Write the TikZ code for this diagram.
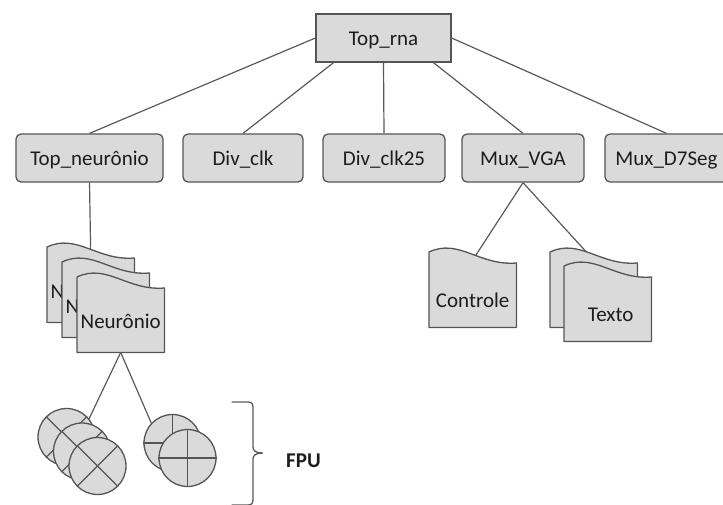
\documentclass[tikz,border=0pt]{standalone}
\usepackage{fontspec}
\setmainfont{Carlito}
\definecolor{boxgray}{HTML}{DADADA}
\definecolor{boxline}{HTML}{555555}
\definecolor{linkgray}{HTML}{5A5A5A}
\definecolor{txt}{HTML}{1C1C1C}

% wavy "document" outline built on the anchors of an invisible frame node
\newcommand\docoutline[1]{(#1.south west) -- (#1.north west)
  .. controls ([xshift=30pt,yshift=14pt]#1.north west) and ([xshift=50pt,yshift=-14pt]#1.north west)
  .. ([yshift=-11pt]#1.north east) -- (#1.south east) -- cycle}

\tikzset{
  lbl/.style={font=\fontsize{21}{24}\selectfont, text=txt},
  topbox/.style={lbl, draw=boxline, fill=boxgray, line width=1.3pt,
    minimum height=48pt, inner sep=0pt, text height=14pt, text depth=0pt},
  modbox/.style={topbox, rounded corners=5pt},
  link/.style={draw=linkgray, line width=1.2pt},
  docframe/.style={rectangle, inner sep=0pt, minimum width=87pt,
    minimum height=75pt, anchor=north west},
  docshape/.style={draw=boxline, fill=boxgray, line width=1.3pt, line join=round},
  doclbl/.style={lbl, anchor=base, inner sep=0pt},
  unit/.style={circle, draw=boxline, fill=boxgray, line width=1.3pt,
    minimum size=57pt, inner sep=0pt},
  cut/.style={draw=boxline, line width=1.3pt},
  bracestyle/.style={draw=linkgray, line width=1.3pt, line cap=round},
}

\begin{document}
\begin{tikzpicture}[x=1pt, y=-1pt]
\useasboundingbox (0,0) rectangle (723,504);

% ---- hierarchy boxes ----
\node[topbox, minimum width=135pt] (top) at (383.5,38) {Top\_rna};
\node[modbox, minimum width=147pt] (topn) at (89.5,158) {Top\_neurônio};
\node[modbox, minimum width=120pt] (div) at (243,158) {Div\_clk};
\node[modbox, minimum width=122pt] (div25) at (384,158) {Div\_clk25};
\node[modbox, minimum width=122pt] (vga) at (523,158) {Mux\_VGA};
\node[modbox, minimum width=123pt] (d7) at (666.5,158) {Mux\_D7Seg};

% ---- invisible frames of the document shapes ----
\node[docframe] (n1) at (47,247) {};
\node[docframe] (n2) at (62,262) {};
\node[docframe] (n3) at (77,277) {};
\node[docframe] (ctl) at (429,252) {};
\node[docframe] (tx1) at (550,252) {};
\node[docframe] (tx2) at (564,266) {};

% ---- connectors (drawn first, shapes cover their ends) ----
\draw[link] (top.west) -- (topn.north);
\draw[link] ([xshift=-50pt]top.south) -- (div.north);
\draw[link] (top.south) -- (div25.north);
\draw[link] ([xshift=50pt]top.south) -- (vga.north);
\draw[link] (top.east) -- (d7.north);
\draw[link] (topn.south) -- ([yshift=-6pt]n1.north);
\draw[link] (vga.south) -- ([yshift=-8pt]ctl.north);
\draw[link] (vga.south) -- ([yshift=-8pt]tx1.north);

% ---- neuron stack ----
\fill[docshape] \docoutline{n1};
\node[doclbl] (n1t) at ([yshift=-51pt]n1.north) {Neurônio};
\fill[docshape] \docoutline{n2};
\node[doclbl] (n2t) at ([yshift=-51pt]n2.north) {Neurônio};
\fill[docshape] \docoutline{n3};
\node[doclbl] (n3t) at ([yshift=-51pt]n3.north) {Neurônio};

% ---- VGA children ----
\fill[docshape] \docoutline{ctl};
\node[doclbl] (ctlt) at ([yshift=-55pt]ctl.north) {Controle};
\fill[docshape] \docoutline{tx1};
\fill[docshape] \docoutline{tx2};
\node[doclbl] (tx2t) at ([xshift=3pt,yshift=-55pt]tx2.north) {Texto};

% ---- floating point units ----
\coordinate (ua) at (66.5,437);
\coordinate (ub) at (172.5,443);
\draw[link] (n3.south) -- ([yshift=-29pt]ua);
\draw[link] (n3.south) -- ([yshift=-29pt]ub);

\node[unit] (m1) at (66.5,437) {};
\draw[cut] (m1.north west) -- (m1.south east) (m1.north east) -- (m1.south west);
\node[unit] (m2) at (82,451.5) {};
\draw[cut] (m2.north west) -- (m2.south east) (m2.north east) -- (m2.south west);
\node[unit] (m3) at (97.5,466) {};
\draw[cut] (m3.north west) -- (m3.south east) (m3.north east) -- (m3.south west);

\node[unit] (a1) at (172.5,443) {};
\draw[cut] (a1.north) -- (a1.south) (a1.west) -- (a1.east);
\node[unit] (a2) at (187.5,458) {};
\draw[cut] (a2.north) -- (a2.south) (a2.west) -- (a2.east);

% ---- FPU brace ----
\draw[bracestyle] (232,402) -- (248,402) .. controls (252,402) and (253,404) .. (253,408)
  -- (253,447) .. controls (253,451) and (256,453) .. (263,453)
  .. controls (256,453) and (253,455) .. (253,459) -- (253,499)
  .. controls (253,503) and (252,505) .. (248,505) -- (232,505);
\node[lbl, font=\fontsize{21}{24}\selectfont\bfseries, anchor=base west, inner sep=0pt] (fpu) at (286,467) {FPU};
\end{tikzpicture}
\end{document}
